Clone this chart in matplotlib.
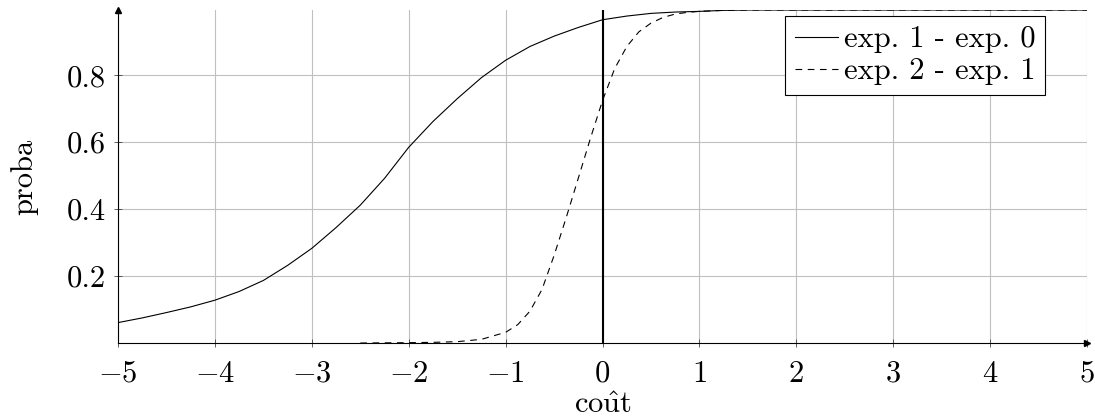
import matplotlib
matplotlib.use('Agg')
import matplotlib.pyplot as plt

plt.rcParams['font.family'] = ['cmr10', 'DejaVu Serif']
plt.rcParams['mathtext.fontset'] = 'cm'
plt.rcParams['axes.formatter.use_mathtext'] = True

# exp. 1 - exp. 0
cost_1 = [-5, -4.75, -4.5, -4.25, -4, -3.75, -3.5, -3.25, -3, -2.75, -2.5, -2.25,
          -2, -1.75, -1.5, -1.25, -1, -0.75, -0.5, -0.25, 0, 0.25, 0.5, 0.75,
          1, 1.25, 1.5, 2, 3, 4, 5]
proba_1 = [0.061, 0.075, 0.091, 0.108, 0.128, 0.154, 0.187, 0.232, 0.283, 0.345,
           0.412, 0.492, 0.585, 0.662, 0.73, 0.793, 0.845, 0.886, 0.917, 0.943,
           0.966, 0.977, 0.985, 0.989, 0.991, 0.994, 0.995, 0.995, 0.995,
           0.995, 0.995]

# exp. 2 - exp. 1
cost_2 = [-2.5, -2.25, -2, -1.75, -1.5, -1.25, -1, -0.875, -0.75, -0.625, -0.5,
          -0.375, -0.25, -0.125, 0, 0.125, 0.25, 0.375, 0.5, 0.625, 0.75,
          0.875, 1, 1.25, 1.5, 2, 3, 4, 5]
proba_2 = [0.0, 0.0005, 0.001, 0.002, 0.004, 0.011, 0.032, 0.055, 0.095, 0.16,
           0.262, 0.375, 0.493, 0.612, 0.725, 0.82, 0.886, 0.93, 0.956, 0.973,
           0.983, 0.988, 0.991, 0.994, 0.995, 0.995, 0.995, 0.995, 0.995]

xticks = [-5, -4, -3, -2, -1, 0, 1, 2, 3, 4, 5]
yticks = [0.2, 0.4, 0.6, 0.8]
labels = ['exp. 1 - exp. 0', 'exp. 2 - exp. 1']

fig = plt.figure(figsize=(10.95, 4.18), dpi=100)
ax = fig.add_axes([0.1078, 0.1794, 0.885, 0.7966])

ax.plot(cost_1, proba_1, color='black', lw=0.8, label=labels[0])
ax.plot(cost_2, proba_2, color='black', lw=0.8, dashes=(6, 5), label=labels[1])
ax.axvline(0, color='black', lw=1.5)

ax.set_xlim(-5, 5)
ax.set_ylim(0, 0.995)
ax.set_xticks(xticks)
ax.set_xticklabels(['$%d$' % t if t < 0 else '%d' % t for t in xticks])
ax.set_yticks(yticks)
ax.set_yticklabels(['%.1f' % t for t in yticks])

ax.grid(True, color='#c0c0c0', lw=0.8)
ax.set_axisbelow(True)
for s in ['top', 'right']:
    ax.spines[s].set_visible(False)
for s in ['left', 'bottom']:
    ax.spines[s].set_color('black')
    ax.spines[s].set_linewidth(0.8)
    ax.spines[s].set_zorder(5)

ax.tick_params(direction='inout', length=6, width=0.6, color='#444444',
               labelsize=22)
ax.tick_params(axis='x', pad=9.5)
ax.tick_params(axis='y', pad=6)

# arrow heads at the end of the axis lines
ax.plot(1, 0, '>', color='black', ms=5, transform=ax.transAxes, clip_on=False)
ax.plot(0, 1, '^', color='black', ms=5, transform=ax.transAxes, clip_on=False)

ax.set_xlabel(r'$\mathrm{co\hat{u}t}$', fontsize=22, labelpad=2.5)
ax.set_ylabel('proba', fontsize=22, labelpad=20)

leg = ax.legend(loc='upper right', bbox_to_anchor=(0.957, 0.983), borderaxespad=0,
                fontsize=22, fancybox=False, edgecolor='black', framealpha=1,
                handlelength=1.4, handletextpad=0.2, borderpad=0.33,
                labelspacing=0.15)
leg.get_frame().set_linewidth(0.8)

fig.savefig('out.png', dpi=100)
